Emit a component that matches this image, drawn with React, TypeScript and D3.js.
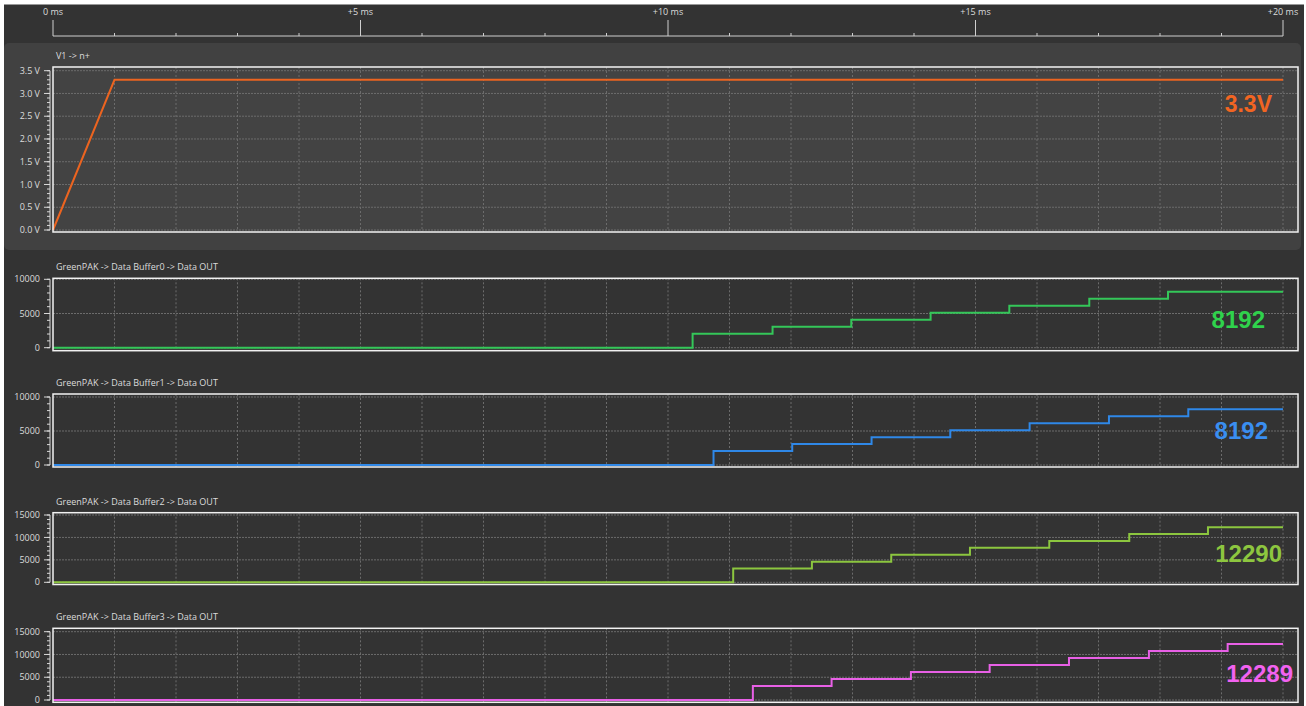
import React from "react";
import * as d3 from "d3";

// ---- data ----
const timeTicksMs = [0, 5, 10, 15, 20];

const voltageTimes = [0, 1, 20];
const voltageValues = [0, 3.3, 3.3];

const buffer0Times = [0, 10.4, 11.7, 12.98, 14.27, 15.55, 16.85, 18.13, 20];
const buffer0Values = [0, 2048, 3072, 4096, 5120, 6144, 7168, 8192, 8192];

const buffer1Times = [0, 10.74, 12.02, 13.31, 14.59, 15.88, 17.17, 18.46, 20];
const buffer1Values = [0, 2048, 3072, 4096, 5120, 6144, 7168, 8192, 8192];

const buffer2Times = [0, 11.06, 12.34, 13.63, 14.91, 16.2, 17.5, 18.78, 20];
const buffer2Values = [0, 3072, 4608, 6144, 7680, 9216, 10752, 12290, 12290];

const buffer3Times = [0, 11.38, 12.66, 13.95, 15.23, 16.52, 17.82, 19.1, 20];
const buffer3Values = [0, 3072, 4608, 6144, 7680, 9216, 10752, 12289, 12289];

// ---- layout ----
const W = 1306;
const H = 706;
const plotLeft = 53;
const plotRight = 1283;
const frameRight = 1298;
const FONT = "'Open Sans', 'Noto Sans', sans-serif";
const LABEL_FONT = "'Liberation Sans', Arial, sans-serif";

type Panel = {
  title: string;
  times: number[];
  values: number[];
  max: number;
  major: number;
  minor: number;
  fmt: (v: number) => string;
  frameTop: number;
  frameBottom: number;
  zeroY: number;
  maxY: number;
  color: string;
  labelColor: string;
  label: string;
  labelX: number;
  labelY: number;
  labelSize: number;
  curve: d3.CurveFactory;
};

const fmtVolt = (v: number) => `${d3.format(".1f")(v)} V`;
const fmtInt = (v: number) => d3.format("d")(v);

const panels: Panel[] = [
  {
    title: "V1 -> n+",
    times: voltageTimes,
    values: voltageValues,
    max: 3.5, major: 0.5, minor: 0.1, fmt: fmtVolt,
    frameTop: 67, frameBottom: 232, zeroY: 230, maxY: 70.7,
    color: "#ec6420", labelColor: "#f26522",
    label: `${voltageValues[voltageValues.length - 1]}V`,
    labelX: 1272, labelY: 111.5, labelSize: 23,
    curve: d3.curveLinear,
  },
  {
    title: "GreenPAK -> Data Buffer0 -> Data OUT",
    times: buffer0Times,
    values: buffer0Values,
    max: 10000, major: 5000, minor: 1000, fmt: fmtInt,
    frameTop: 278.3, frameBottom: 350.7, zeroY: 347.7, maxY: 279.3,
    color: "#34c759", labelColor: "#2fd24c",
    label: String(buffer0Values[buffer0Values.length - 1]),
    labelX: 1265, labelY: 327.5, labelSize: 24,
    curve: d3.curveStepAfter,
  },
  {
    title: "GreenPAK -> Data Buffer1 -> Data OUT",
    times: buffer1Times,
    values: buffer1Values,
    max: 10000, major: 5000, minor: 1000, fmt: fmtInt,
    frameTop: 394, frameBottom: 467, zeroY: 465, maxY: 397,
    color: "#2f88e8", labelColor: "#3a8ef0",
    label: String(buffer1Values[buffer1Values.length - 1]),
    labelX: 1268, labelY: 439, labelSize: 24,
    curve: d3.curveStepAfter,
  },
  {
    title: "GreenPAK -> Data Buffer2 -> Data OUT",
    times: buffer2Times,
    values: buffer2Values,
    max: 15000, major: 5000, minor: 1000, fmt: fmtInt,
    frameTop: 512.7, frameBottom: 584.5, zeroY: 582.3, maxY: 515,
    color: "#8cc63f", labelColor: "#8dc63f",
    label: String(buffer2Values[buffer2Values.length - 1]),
    labelX: 1282, labelY: 562.3, labelSize: 24,
    curve: d3.curveStepAfter,
  },
  {
    title: "GreenPAK -> Data Buffer3 -> Data OUT",
    times: buffer3Times,
    values: buffer3Values,
    max: 15000, major: 5000, minor: 1000, fmt: fmtInt,
    frameTop: 628.3, frameBottom: 702.3, zeroY: 700, maxY: 631.7,
    color: "#e860e6", labelColor: "#f262f0",
    label: String(buffer3Values[buffer3Values.length - 1]),
    labelX: 1293, labelY: 681.7, labelSize: 24,
    curve: d3.curveStepAfter,
  },
];

const x = d3.scaleLinear().domain([0, 20]).range([plotLeft, plotRight]);

function PanelView({ p, bg }: { p: Panel; bg: string }) {
  const y = d3.scaleLinear().domain([0, p.max]).range([p.zeroY, p.maxY]);
  const majors = d3.range(0, p.max + p.major / 2, p.major);
  const minors = d3.range(0, p.max + p.minor / 2, p.minor);
  const gridX = d3.range(1, 21);
  const line = d3
    .line<number>()
    .x((_, i) => x(p.times[i]))
    .y((v) => y(v))
    .curve(p.curve);
  return (
    <g>
      <rect
        x={plotLeft}
        y={p.frameTop}
        width={frameRight - plotLeft}
        height={p.frameBottom - p.frameTop}
        fill={bg}
      />
      {/* grid */}
      {gridX.map((t) => (
        <line
          key={"gx" + t}
          x1={x(t)}
          x2={x(t)}
          y1={p.frameTop}
          y2={p.frameBottom}
          stroke="#6c6c6c"
          strokeWidth={1}
          strokeDasharray="2,2"
        />
      ))}
      {majors.map((v) => (
        <line
          key={"gy" + v}
          x1={plotLeft}
          x2={frameRight}
          y1={y(v)}
          y2={y(v)}
          stroke="#6c6c6c"
          strokeWidth={1}
          strokeDasharray="2,1"
        />
      ))}
      {/* y axis */}
      <line x1={50} x2={50} y1={y(p.max)} y2={y(0)} stroke="#d8d8d8" strokeWidth={1} />
      {minors.map((v) => (
        <line key={"mn" + v} x1={47} x2={50} y1={y(v)} y2={y(v)} stroke="#d8d8d8" strokeWidth={1} />
      ))}
      {majors.map((v) => (
        <g key={"mj" + v}>
          <line x1={44} x2={50} y1={y(v)} y2={y(v)} stroke="#d8d8d8" strokeWidth={1} />
          <text
            x={40}
            y={y(v)}
            dy="0.35em"
            textAnchor="end"
            fontFamily={FONT}
            fontSize={9}
            fill="#dcdcdc"
          >
            {p.fmt(v)}
          </text>
        </g>
      ))}
      {/* title */}
      <text x={56} y={p.frameTop - 8} fontFamily={FONT} fontSize={9} fill="#dcdcdc">
        {p.title}
      </text>
      {/* series */}
      <path d={line(p.values) ?? ""} fill="none" stroke={p.color} strokeWidth={2} />
      {/* frame */}
      <rect
        x={plotLeft}
        y={p.frameTop}
        width={frameRight - plotLeft}
        height={p.frameBottom - p.frameTop}
        fill="none"
        stroke="#f2f2f2"
        strokeWidth={1.5}
      />
      <text
        x={p.labelX}
        y={p.labelY}
        textAnchor="end"
        fontFamily={LABEL_FONT}
        fontWeight="bold"
        fontSize={p.labelSize}
        fill={p.labelColor}
      >
        {p.label}
      </text>
    </g>
  );
}

export default function App() {
  const minorTimeTicks = d3.range(0, 21, 1).filter((t) => t % 5 !== 0);
  return (
    <svg
      width={W}
      height={H}
      style={{ position: "absolute", left: 0, top: 0, display: "block" }}
    >
      <rect x={0} y={0} width={W} height={H} fill="#ffffff" />
      <rect x={4} y={4.5} width={1300} height={H - 4.5} fill="#333333" />
      {/* highlighted analog panel */}
      <rect x={4} y={43} width={1297} height={207} rx={5} fill="#414141" />

      {/* time axis */}
      <line x1={x(0)} x2={x(20)} y1={36} y2={36} stroke="#cfcfcf" strokeWidth={1} />
      {minorTimeTicks.map((t) => (
        <line key={"tm" + t} x1={x(t)} x2={x(t)} y1={33} y2={36} stroke="#cfcfcf" strokeWidth={1} />
      ))}
      {timeTicksMs.map((t) => (
        <g key={"tt" + t}>
          <line x1={x(t)} x2={x(t)} y1={20} y2={36} stroke="#cfcfcf" strokeWidth={1} />
          <text
            x={x(t)}
            y={15}
            textAnchor="middle"
            fontFamily={FONT}
            fontSize={9}
            fill="#dcdcdc"
          >
            {t === 0 ? "0 ms" : `+${t} ms`}
          </text>
        </g>
      ))}

      {panels.map((p, i) => (
        <PanelView key={i} p={p} bg={i === 0 ? "#434343" : "#333333"} />
      ))}
    </svg>
  );
}
